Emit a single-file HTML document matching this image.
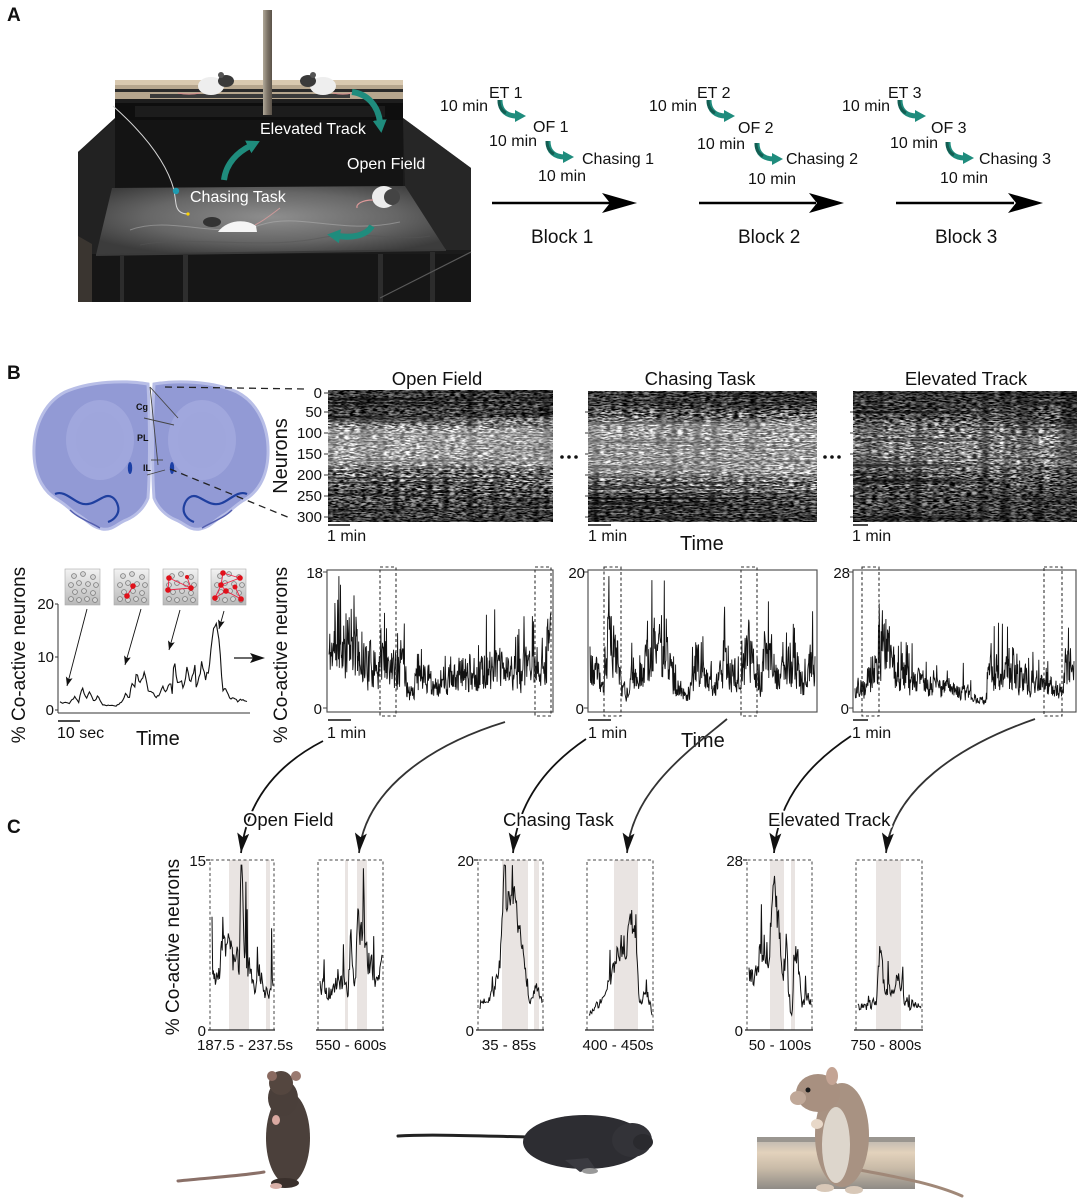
<!DOCTYPE html>
<html><head><meta charset="utf-8">
<style>
html,body{margin:0;padding:0;background:#fff;}
body{width:1080px;height:1198px;position:relative;overflow:hidden;font-family:"Liberation Sans",Arial,sans-serif;}
svg{position:absolute;left:0;top:0;}
.lab{font-family:"Liberation Sans",Arial,sans-serif;fill:#111;}
.halo{paint-order:stroke;stroke:#fff;stroke-width:4px;stroke-linejoin:round;}
</style></head><body>
<svg width="1080" height="1198" viewBox="0 0 1080 1198" xmlns="http://www.w3.org/2000/svg" font-family="Liberation Sans, Arial, sans-serif">
<defs>
 <marker id="th" markerUnits="userSpaceOnUse" markerWidth="14" markerHeight="14" refX="2" refY="6" orient="auto"><path d="M0,0 L11,6 L0,12 Z" fill="#1f8c7d"/></marker>
 <marker id="thb" markerUnits="userSpaceOnUse" markerWidth="16" markerHeight="16" refX="2" refY="7" orient="auto"><path d="M0,0 L13,7 L0,14 Z" fill="#1f8c7d"/></marker>
 <marker id="bk" markerUnits="userSpaceOnUse" markerWidth="22" markerHeight="14" refX="20" refY="6" orient="auto"><path d="M0,0 L20,6 L0,12 L4,6 Z" fill="#111"/></marker>
 <marker id="sm" markerUnits="userSpaceOnUse" markerWidth="10" markerHeight="8" refX="9" refY="3.5" orient="auto"><path d="M0,0 L9,3.5 L0,7 L2,3.5 Z" fill="#111"/></marker>
 <radialGradient id="floorG" cx="0.5" cy="0.45" r="0.6"><stop offset="0" stop-color="#8e8e8e"/><stop offset="0.6" stop-color="#666"/><stop offset="1" stop-color="#3c3c3c"/></radialGradient>
 <linearGradient id="boardG" x1="0" x2="1"><stop offset="0" stop-color="#b0a898"/><stop offset="0.5" stop-color="#7d7468"/><stop offset="1" stop-color="#5a5248"/></linearGradient>
 <linearGradient id="iconG" x1="0" y1="0" x2="0" y2="1"><stop offset="0" stop-color="#f2f2f2"/><stop offset="1" stop-color="#b8b8b8"/></linearGradient>
 <linearGradient id="logG" x1="0" y1="0" x2="0" y2="1"><stop offset="0" stop-color="#b8b4ae"/><stop offset="0.3" stop-color="#e3d2bc"/><stop offset="0.6" stop-color="#c9bba8"/><stop offset="1" stop-color="#8f8b86"/></linearGradient>
 <filter id="nz1" x="0" y="0" width="1" height="1" filterUnits="objectBoundingBox" color-interpolation-filters="sRGB">
  <feTurbulence type="fractalNoise" baseFrequency="0.18 0.75" numOctaves="2" seed="3" result="t1"/>
  <feColorMatrix in="t1" type="matrix" values="1 0 0 0 0  1 0 0 0 0  1 0 0 0 0  0 0 0 0 1" result="g1"/>
  <feComponentTransfer in="g1" result="c1"><feFuncR type="linear" slope="3.2" intercept="-1.1"/><feFuncG type="linear" slope="3.2" intercept="-1.1"/><feFuncB type="linear" slope="3.2" intercept="-1.1"/></feComponentTransfer>
  <feTurbulence type="fractalNoise" baseFrequency="0.12 0.008" numOctaves="1" seed="7" result="t2"/>
  <feColorMatrix in="t2" type="matrix" values="1 0 0 0 0  1 0 0 0 0  1 0 0 0 0  0 0 0 0 1" result="g2"/>
  <feComponentTransfer in="g2" result="c2"><feFuncR type="linear" slope="2" intercept="0"/><feFuncG type="linear" slope="2" intercept="0"/><feFuncB type="linear" slope="2" intercept="0"/></feComponentTransfer>
  <feBlend in="c1" in2="c2" mode="multiply" result="m1"/>
  <feTurbulence type="fractalNoise" baseFrequency="0.004 0.45" numOctaves="1" seed="5" result="t3"/>
  <feColorMatrix in="t3" type="matrix" values="1 0 0 0 0  1 0 0 0 0  1 0 0 0 0  0 0 0 0 1" result="g3"/>
  <feComponentTransfer in="g3" result="c3"><feFuncR type="linear" slope="2.4" intercept="-0.3"/><feFuncG type="linear" slope="2.4" intercept="-0.3"/><feFuncB type="linear" slope="2.4" intercept="-0.3"/></feComponentTransfer>
  <feBlend in="m1" in2="c3" mode="multiply"/>
 </filter>
 <filter id="nz2" x="0" y="0" width="1" height="1" filterUnits="objectBoundingBox" color-interpolation-filters="sRGB">
  <feTurbulence type="fractalNoise" baseFrequency="0.18 0.75" numOctaves="2" seed="11" result="t1"/>
  <feColorMatrix in="t1" type="matrix" values="1 0 0 0 0  1 0 0 0 0  1 0 0 0 0  0 0 0 0 1" result="g1"/>
  <feComponentTransfer in="g1" result="c1"><feFuncR type="linear" slope="3.2" intercept="-1.1"/><feFuncG type="linear" slope="3.2" intercept="-1.1"/><feFuncB type="linear" slope="3.2" intercept="-1.1"/></feComponentTransfer>
  <feTurbulence type="fractalNoise" baseFrequency="0.12 0.008" numOctaves="1" seed="21" result="t2"/>
  <feColorMatrix in="t2" type="matrix" values="1 0 0 0 0  1 0 0 0 0  1 0 0 0 0  0 0 0 0 1" result="g2"/>
  <feComponentTransfer in="g2" result="c2"><feFuncR type="linear" slope="2" intercept="0"/><feFuncG type="linear" slope="2" intercept="0"/><feFuncB type="linear" slope="2" intercept="0"/></feComponentTransfer>
  <feBlend in="c1" in2="c2" mode="multiply" result="m1"/>
  <feTurbulence type="fractalNoise" baseFrequency="0.004 0.45" numOctaves="1" seed="15" result="t3"/>
  <feColorMatrix in="t3" type="matrix" values="1 0 0 0 0  1 0 0 0 0  1 0 0 0 0  0 0 0 0 1" result="g3"/>
  <feComponentTransfer in="g3" result="c3"><feFuncR type="linear" slope="2.4" intercept="-0.3"/><feFuncG type="linear" slope="2.4" intercept="-0.3"/><feFuncB type="linear" slope="2.4" intercept="-0.3"/></feComponentTransfer>
  <feBlend in="m1" in2="c3" mode="multiply"/>
 </filter>
 <filter id="nz3" x="0" y="0" width="1" height="1" filterUnits="objectBoundingBox" color-interpolation-filters="sRGB">
  <feTurbulence type="fractalNoise" baseFrequency="0.18 0.75" numOctaves="2" seed="29" result="t1"/>
  <feColorMatrix in="t1" type="matrix" values="1 0 0 0 0  1 0 0 0 0  1 0 0 0 0  0 0 0 0 1" result="g1"/>
  <feComponentTransfer in="g1" result="c1"><feFuncR type="linear" slope="3.2" intercept="-1.1"/><feFuncG type="linear" slope="3.2" intercept="-1.1"/><feFuncB type="linear" slope="3.2" intercept="-1.1"/></feComponentTransfer>
  <feTurbulence type="fractalNoise" baseFrequency="0.09 0.008" numOctaves="1" seed="41" result="t2"/>
  <feColorMatrix in="t2" type="matrix" values="1 0 0 0 0  1 0 0 0 0  1 0 0 0 0  0 0 0 0 1" result="g2"/>
  <feComponentTransfer in="g2" result="c2"><feFuncR type="linear" slope="2" intercept="-0.05"/><feFuncG type="linear" slope="2" intercept="-0.05"/><feFuncB type="linear" slope="2" intercept="-0.05"/></feComponentTransfer>
  <feBlend in="c1" in2="c2" mode="multiply" result="m1"/>
  <feTurbulence type="fractalNoise" baseFrequency="0.004 0.45" numOctaves="1" seed="33" result="t3"/>
  <feColorMatrix in="t3" type="matrix" values="1 0 0 0 0  1 0 0 0 0  1 0 0 0 0  0 0 0 0 1" result="g3"/>
  <feComponentTransfer in="g3" result="c3"><feFuncR type="linear" slope="2.4" intercept="-0.3"/><feFuncG type="linear" slope="2.4" intercept="-0.3"/><feFuncB type="linear" slope="2.4" intercept="-0.3"/></feComponentTransfer>
  <feBlend in="m1" in2="c3" mode="multiply"/>
 </filter>
 <linearGradient id="ovOF" x1="0" y1="0" x2="0" y2="1">
  <stop offset="0" stop-color="#000" stop-opacity="0.5"/><stop offset="0.2" stop-color="#000" stop-opacity="0.4"/>
  <stop offset="0.26" stop-color="#fff" stop-opacity="0.15"/><stop offset="0.32" stop-color="#fff" stop-opacity="0.4"/>
  <stop offset="0.55" stop-color="#fff" stop-opacity="0.35"/><stop offset="0.62" stop-color="#fff" stop-opacity="0.05"/>
  <stop offset="0.75" stop-color="#000" stop-opacity="0.15"/><stop offset="0.85" stop-color="#000" stop-opacity="0.35"/><stop offset="1" stop-color="#000" stop-opacity="0.45"/>
 </linearGradient>
 <linearGradient id="ovCT" x1="0" y1="0" x2="0" y2="1">
  <stop offset="0" stop-color="#000" stop-opacity="0.5"/><stop offset="0.12" stop-color="#000" stop-opacity="0.4"/>
  <stop offset="0.18" stop-color="#000" stop-opacity="0.05"/><stop offset="0.25" stop-color="#fff" stop-opacity="0.35"/>
  <stop offset="0.6" stop-color="#fff" stop-opacity="0.35"/><stop offset="0.7" stop-color="#fff" stop-opacity="0.05"/>
  <stop offset="0.8" stop-color="#000" stop-opacity="0.3"/><stop offset="1" stop-color="#000" stop-opacity="0.5"/>
 </linearGradient>
 <linearGradient id="ovET" x1="0" y1="0" x2="0" y2="1">
  <stop offset="0" stop-color="#000" stop-opacity="0.55"/><stop offset="0.12" stop-color="#000" stop-opacity="0.4"/>
  <stop offset="0.22" stop-color="#000" stop-opacity="0.2"/><stop offset="0.32" stop-color="#fff" stop-opacity="0.15"/>
  <stop offset="0.55" stop-color="#fff" stop-opacity="0.15"/><stop offset="0.65" stop-color="#000" stop-opacity="0.15"/>
  <stop offset="0.8" stop-color="#000" stop-opacity="0.35"/><stop offset="1" stop-color="#000" stop-opacity="0.5"/>
 </linearGradient>
 <g id="tarrow"><path d="M0,0 C0,11 7,16 17,16" fill="none" stroke="#1f8c7d" stroke-width="5" marker-end="url(#th)"/><path d="M-1,0 C-1,7 2,11 6,13" fill="none" stroke="#135d52" stroke-width="3"/></g>
 <g id="circs" fill="#d6d6d6" stroke="#7a7a7a" stroke-width="0.8">
  <circle cx="9" cy="7" r="2.4"/><circle cx="18" cy="5" r="2.4"/><circle cx="28" cy="8" r="2.4"/>
  <circle cx="6" cy="16" r="2.4"/><circle cx="14" cy="14" r="2.4"/><circle cx="23" cy="15" r="2.4"/><circle cx="31" cy="16" r="2.4"/>
  <circle cx="10" cy="23" r="2.4"/><circle cx="19" cy="22" r="2.4"/><circle cx="28" cy="24" r="2.4"/>
  <circle cx="6" cy="30" r="2.4"/><circle cx="14" cy="31" r="2.4"/><circle cx="22" cy="30" r="2.4"/><circle cx="30" cy="31" r="2.4"/>
 </g>
 <g id="lhemi">
  <path d="M148,384 C125,380 90,381 65,392 C42,404 33,430 34,455 C35,478 45,493 58,500 C68,506 72,512 80,516 C88,521 92,527 102,529 C112,531 118,523 126,520 C136,516 144,508 148,498 C150,470 150,420 148,384 Z" fill="#929ad5" stroke="#b8bee7" stroke-width="3"/>
  <ellipse cx="100" cy="440" rx="34" ry="40" fill="#a6addf" opacity="0.7"/>
  <ellipse cx="100" cy="440" rx="24" ry="28" fill="#9ea5dc" opacity="0.6"/>
  <path d="M55,494 C64,490 72,500 80,503 C90,507 97,500 104,497 C110,494 116,498 118,506 C120,514 114,520 108,522" fill="none" stroke="#1f3f9f" stroke-width="2.2"/>
  <ellipse cx="130" cy="468" rx="2.2" ry="6" fill="#1b3fa5"/>
  <path d="M70,510 C78,518 90,522 100,528" fill="none" stroke="#5560b0" stroke-width="1.5"/>
 </g>
</defs>

<!-- ============ PANEL A ============ -->
<text x="7" y="21" font-size="19" font-weight="bold" class="lab">A</text>

<g>
 <polygon points="78,152 115,118 403,118 471,168 471,302 78,302" fill="#1b1b1b"/>
 <rect x="115" y="118" width="288" height="72" fill="#141414"/>
 <polygon points="78,152 115,120 115,190 97,255 78,262" fill="#222"/>
 <polygon points="403,118 471,168 471,250 446,250 405,186" fill="#262626"/>
 <polygon points="112,188 405,186 446,250 96,255" fill="url(#floorG)"/>
 <path d="M130,230 C170,215 220,240 260,225 C300,212 340,235 400,222" stroke="#b5b5b5" stroke-width="1" fill="none" opacity="0.5"/>
 <path d="M140,245 C190,235 260,250 320,238 C360,230 400,242 430,236" stroke="#555" stroke-width="1" fill="none" opacity="0.5"/>
 <rect x="78" y="254" width="393" height="48" fill="#161616"/>
 <line x1="96" y1="255" x2="446" y2="250" stroke="#3a3a3a" stroke-width="2"/>
 <rect x="120" y="255" width="4" height="47" fill="#2c2c2c"/>
 <rect x="183" y="255" width="5" height="47" fill="#2e2e2e"/>
 <rect x="378" y="254" width="5" height="48" fill="#2c2c2c"/>
 <rect x="430" y="252" width="5" height="50" fill="#2c2c2c"/>
 <polygon points="78,236 92,244 92,302 78,302" fill="#3a3530"/>
 <line x1="471" y1="252" x2="380" y2="298" stroke="#5a5a5a" stroke-width="1.2"/>
 <rect x="115" y="80" width="288" height="23" fill="#b6a68e"/>
 <rect x="115" y="80" width="288" height="5" fill="#d9c9b0"/>
 <rect x="115" y="89" width="288" height="3" fill="#2a2a2a"/>
 <rect x="150" y="94" width="200" height="4" fill="#3a3a3a"/>
 <rect x="115" y="99" width="288" height="4" fill="#1e1e1e"/>
 <rect x="115" y="103" width="288" height="17" fill="#0e0e0e"/>
 <rect x="135" y="106" width="250" height="11" fill="#1c1c1c"/>
 <ellipse cx="211" cy="86" rx="13" ry="9" fill="#eeeeee"/>
 <ellipse cx="226" cy="81" rx="8" ry="6" fill="#3a3a3a"/>
 <circle cx="221" cy="75" r="3" fill="#555"/>
 <path d="M200,93 C190,95 183,94 178,93" stroke="#d89090" stroke-width="1" fill="none"/>
 <ellipse cx="323" cy="86" rx="13" ry="9" fill="#eeeeee"/>
 <ellipse cx="308" cy="81" rx="8" ry="6" fill="#3a3a3a"/>
 <circle cx="313" cy="75" r="3" fill="#555"/>
 <path d="M333,93 C342,95 348,94 352,93" stroke="#d89090" stroke-width="1" fill="none"/>
 <rect x="263" y="10" width="9" height="105" fill="url(#boardG)"/>
 <path d="M113,106 C140,130 166,160 174,190 L176,204 C177,211 181,214 188,214" stroke="#d8d8d8" stroke-width="1" fill="none"/>
 <circle cx="176" cy="191" r="3.2" fill="#1e9bb0"/>
 <circle cx="188" cy="214" r="1.6" fill="#ffd400"/>
 <path d="M218,232 C226,220 246,218 256,226 L257,232 Z" fill="#f5f5f5"/>
 <ellipse cx="212" cy="222" rx="9" ry="5" fill="#333"/>
 <path d="M255,225 C265,220 272,214 280,208" stroke="#c99" stroke-width="1" fill="none"/>
 <ellipse cx="384" cy="197" rx="12" ry="11" fill="#ececec"/>
 <ellipse cx="392" cy="197" rx="8" ry="8" fill="#444"/>
 <path d="M373,200 C362,200 356,204 357,208" stroke="#d99" stroke-width="1.2" fill="none"/>
 <path d="M224,180 C226,163 238,152 250,146" fill="none" stroke="#1f8c7d" stroke-width="6" marker-end="url(#thb)"/>
 <path d="M352,92 C368,94 378,106 380,122" fill="none" stroke="#1f8c7d" stroke-width="6" marker-end="url(#thb)"/>
 <path d="M372,226 C366,236 352,238 338,236" fill="none" stroke="#1f8c7d" stroke-width="6" marker-end="url(#thb)"/>
 <text x="260" y="134" font-size="16" fill="#fff">Elevated Track</text>
 <text x="347" y="169" font-size="16" fill="#fff">Open Field</text>
 <text x="190" y="202" font-size="16" fill="#fff">Chasing Task</text>
</g>

<g font-size="16" class="lab">
 <text x="440" y="111">10 min</text><text x="489" y="98">ET 1</text><text x="533" y="132">OF 1</text>
 <text x="489" y="146">10 min</text><text x="582" y="164">Chasing 1</text><text x="538" y="181">10 min</text>
 <text x="649" y="111">10 min</text><text x="697" y="98">ET 2</text><text x="738" y="133">OF 2</text>
 <text x="697" y="149">10 min</text><text x="786" y="164">Chasing 2</text><text x="748" y="184">10 min</text>
 <text x="842" y="111">10 min</text><text x="888" y="98">ET 3</text><text x="931" y="133">OF 3</text>
 <text x="890" y="148">10 min</text><text x="979" y="164">Chasing 3</text><text x="940" y="183">10 min</text>
</g>
<use href="#tarrow" transform="translate(500,100)"/>
<use href="#tarrow" transform="translate(548,141)"/>
<use href="#tarrow" transform="translate(709,100)"/>
<use href="#tarrow" transform="translate(757,143)"/>
<use href="#tarrow" transform="translate(900,100)"/>
<use href="#tarrow" transform="translate(948,142)"/>
<g fill="#000">
 <line x1="492" y1="203" x2="610" y2="203" stroke="#000" stroke-width="2.5"/>
 <polygon points="602,193 637,203 602,213 610,203"/>
 <line x1="699" y1="203" x2="816" y2="203" stroke="#000" stroke-width="2.5"/>
 <polygon points="809,193 844,203 809,213 817,203"/>
 <line x1="896" y1="203" x2="1014" y2="203" stroke="#000" stroke-width="2.5"/>
 <polygon points="1008,193 1043,203 1008,213 1016,203"/>
</g>
<g font-size="19" class="lab">
 <text x="531" y="243">Block 1</text><text x="738" y="243">Block 2</text><text x="935" y="243">Block 3</text>
</g>

<!-- ============ PANEL B ============ -->
<text x="7" y="379" font-size="19" font-weight="bold" class="lab">B</text>
<use href="#lhemi"/>
<use href="#lhemi" transform="translate(302,0) scale(-1,1)"/>
<g stroke="#444" stroke-width="0.9" fill="none">
 <line x1="150" y1="387" x2="158" y2="465"/>
 <line x1="150" y1="387" x2="178" y2="418"/>
 <line x1="144" y1="418" x2="174" y2="425"/>
 <line x1="151" y1="460" x2="163" y2="460"/>
 <line x1="147" y1="475" x2="165" y2="470"/>
</g>
<g font-size="9" font-weight="bold" class="lab">
 <text x="136" y="410">Cg</text><text x="137" y="441">PL</text><text x="143" y="471">IL</text>
</g>
<g stroke="#222" stroke-width="1.3" stroke-dasharray="7,5" fill="none">
 <line x1="165" y1="387" x2="305" y2="389"/>
 <line x1="170" y1="469" x2="290" y2="518"/>
</g>

<rect x="328" y="390" width="225" height="132" fill="#888" filter="url(#nz1)"/>
<rect x="328" y="390" width="225" height="132" fill="url(#ovOF)"/>
<rect x="588" y="391" width="229" height="131" fill="#888" filter="url(#nz2)"/>
<rect x="588" y="391" width="229" height="131" fill="url(#ovCT)"/>
<rect x="853" y="391" width="224" height="131" fill="#888" filter="url(#nz3)"/>
<rect x="853" y="391" width="224" height="131" fill="url(#ovET)"/>
<g stroke="#333" stroke-width="1">
 <line x1="324" y1="393" x2="328" y2="393"/><line x1="324" y1="412" x2="328" y2="412"/><line x1="324" y1="433" x2="328" y2="433"/>
 <line x1="324" y1="454" x2="328" y2="454"/><line x1="324" y1="475" x2="328" y2="475"/><line x1="324" y1="496" x2="328" y2="496"/><line x1="324" y1="517" x2="328" y2="517"/>
 <line x1="585" y1="412" x2="588" y2="412"/><line x1="585" y1="433" x2="588" y2="433"/><line x1="585" y1="454" x2="588" y2="454"/><line x1="585" y1="475" x2="588" y2="475"/><line x1="585" y1="496" x2="588" y2="496"/><line x1="585" y1="517" x2="588" y2="517"/>
 <line x1="850" y1="412" x2="853" y2="412"/><line x1="850" y1="433" x2="853" y2="433"/><line x1="850" y1="454" x2="853" y2="454"/><line x1="850" y1="475" x2="853" y2="475"/><line x1="850" y1="496" x2="853" y2="496"/><line x1="850" y1="517" x2="853" y2="517"/>
</g>
<g font-size="15" class="lab" text-anchor="end">
 <text x="322" y="398">0</text><text x="322" y="417">50</text><text x="322" y="438">100</text><text x="322" y="459">150</text>
 <text x="322" y="480">200</text><text x="322" y="501">250</text><text x="322" y="522">300</text>
</g>
<text transform="translate(287,456) rotate(-90)" font-size="20" text-anchor="middle" class="lab">Neurons</text>
<g font-size="18.5" class="lab" text-anchor="middle">
 <text x="437" y="385">Open Field</text><text x="700" y="385">Chasing Task</text><text x="966" y="385">Elevated Track</text>
</g>
<g fill="#111"><circle cx="562" cy="457" r="1.8"/><circle cx="569" cy="457" r="1.8"/><circle cx="576" cy="457" r="1.8"/>
<circle cx="825" cy="457" r="1.8"/><circle cx="832" cy="457" r="1.8"/><circle cx="839" cy="457" r="1.8"/></g>
<g stroke="#111" stroke-width="1.5">
 <line x1="328" y1="525" x2="350" y2="525"/><line x1="588" y1="525" x2="611" y2="525"/><line x1="853" y1="525" x2="868" y2="525"/>
</g>
<g font-size="16" class="lab">
 <text x="327" y="541">1 min</text><text x="588" y="541">1 min</text><text x="852" y="541">1 min</text>
</g>
<text x="680" y="550" font-size="20" class="lab">Time</text>

<g>
 <rect x="65" y="569" width="35" height="36" fill="url(#iconG)" stroke="#aaa" stroke-width="0.6"/>
 <use href="#circs" transform="translate(65,569)"/>
 <rect x="114" y="569" width="35" height="36" fill="url(#iconG)" stroke="#aaa" stroke-width="0.6"/>
 <use href="#circs" transform="translate(114,569)"/>
 <g transform="translate(114,569)"><line x1="19" y1="17" x2="13" y2="27" stroke="#e24" stroke-width="0.9"/><circle cx="19" cy="17" r="2.8" fill="#e0101a"/><circle cx="13" cy="27" r="2.8" fill="#e0101a"/></g>
 <rect x="163" y="569" width="35" height="36" fill="url(#iconG)" stroke="#aaa" stroke-width="0.6"/>
 <use href="#circs" transform="translate(163,569)"/>
 <g transform="translate(163,569)" stroke="#e24" stroke-width="0.9"><line x1="6" y1="9" x2="28" y2="19"/><line x1="6" y1="9" x2="5" y2="21"/><line x1="5" y1="21" x2="28" y2="19"/><line x1="24" y1="8" x2="28" y2="19"/>
  <g fill="#e0101a" stroke="none"><circle cx="6" cy="9" r="2.8"/><circle cx="5" cy="21" r="2.8"/><circle cx="28" cy="19" r="2.8"/><circle cx="24" cy="8" r="2"/></g></g>
 <rect x="211" y="569" width="35" height="36" fill="url(#iconG)" stroke="#aaa" stroke-width="0.6"/>
 <use href="#circs" transform="translate(211,569)"/>
 <g transform="translate(211,569)" stroke="#e24" stroke-width="0.9"><line x1="12" y1="4" x2="29" y2="9"/><line x1="12" y1="4" x2="10" y2="16"/><line x1="10" y1="16" x2="4" y2="29"/><line x1="10" y1="16" x2="29" y2="9"/><line x1="15" y1="22" x2="30" y2="30"/><line x1="4" y1="29" x2="15" y2="22"/><line x1="24" y1="18" x2="30" y2="30"/><line x1="10" y1="16" x2="15" y2="22"/>
  <g fill="#e0101a" stroke="none"><circle cx="12" cy="4" r="2.8"/><circle cx="29" cy="9" r="2.8"/><circle cx="10" cy="16" r="2.8"/><circle cx="4" cy="29" r="2.8"/><circle cx="15" cy="22" r="2.8"/><circle cx="30" cy="30" r="2.8"/><circle cx="24" cy="18" r="2.5"/></g></g>
 <line x1="58" y1="604" x2="58" y2="713" stroke="#333" stroke-width="1"/>
 <line x1="58" y1="713" x2="250" y2="713" stroke="#333" stroke-width="1"/>
 <line x1="55" y1="604" x2="58" y2="604" stroke="#333"/><line x1="55" y1="657" x2="58" y2="657" stroke="#333"/><line x1="55" y1="710" x2="58" y2="710" stroke="#333"/>
 <g font-size="15" class="lab" text-anchor="end"><text x="54" y="609">20</text><text x="54" y="662">10</text><text x="54" y="715">0</text></g>
 <path id="tIn" d="" fill="none" stroke="#111" stroke-width="1.1"/>
 <g stroke="#111" stroke-width="0.9" marker-end="url(#sm)">
  <line x1="87" y1="609" x2="67" y2="686"/><line x1="141" y1="609" x2="125" y2="665"/><line x1="180" y1="610" x2="169" y2="650"/><line x1="224" y1="611" x2="219" y2="629"/>
 </g>
 <line x1="58" y1="721" x2="80" y2="721" stroke="#111" stroke-width="1.5"/>
 <text x="57" y="738" font-size="16" class="lab">10 sec</text>
 <text x="136" y="745" font-size="20" class="lab">Time</text>
 <text transform="translate(25,655) rotate(-90)" font-size="19" text-anchor="middle" class="lab">% Co-active neurons</text>
 <line x1="234" y1="658" x2="256" y2="658" stroke="#111" stroke-width="1.3"/>
 <polygon points="250,653 265,658 250,663 253,658" fill="#111"/>
</g>

<text transform="translate(287,655) rotate(-90)" font-size="19" text-anchor="middle" class="lab">% Co-active neurons</text>
<g fill="none" stroke="#555" stroke-width="1.2">
 <rect x="327" y="570" width="226" height="142"/>
 <rect x="588" y="570" width="229" height="142"/>
 <rect x="853" y="570" width="223" height="142"/>
</g>
<path id="tOF" d="" fill="none" stroke="#111" stroke-width="0.9"/>
<path id="tCT" d="" fill="none" stroke="#111" stroke-width="0.9"/>
<path id="tET" d="" fill="none" stroke="#111" stroke-width="0.9"/>
<g stroke="#444" stroke-width="1"><line x1="323" y1="572" x2="327" y2="572"/><line x1="323" y1="708" x2="327" y2="708"/>
<line x1="584" y1="572" x2="588" y2="572"/><line x1="584" y1="708" x2="588" y2="708"/><line x1="849" y1="572" x2="853" y2="572"/><line x1="849" y1="708" x2="853" y2="708"/></g>
<g font-size="15" class="lab" text-anchor="end">
 <text x="323" y="578">18</text><text x="322" y="714">0</text>
 <text x="585" y="578">20</text><text x="584" y="714">0</text>
 <text x="850" y="578">28</text><text x="849" y="714">0</text>
</g>
<g fill="none" stroke="#333" stroke-width="1.1" stroke-dasharray="3,2.5">
 <rect x="380" y="567" width="16" height="149"/><rect x="535" y="567" width="16" height="149"/>
 <rect x="604" y="567" width="17" height="149"/><rect x="741" y="567" width="16" height="149"/>
 <rect x="862" y="567" width="17" height="149"/><rect x="1044" y="567" width="18" height="149"/>
</g>
<g stroke="#111" stroke-width="1.5">
 <line x1="328" y1="720" x2="351" y2="720"/><line x1="588" y1="720" x2="611" y2="720"/><line x1="853" y1="720" x2="868" y2="720"/>
</g>
<g font-size="16" class="lab">
 <text x="327" y="738">1 min</text><text x="588" y="738">1 min</text><text x="852" y="738">1 min</text>
</g>
<text x="681" y="747" font-size="20" class="lab">Time</text>

<g fill="none" stroke="#111" stroke-width="1.8" marker-end="url(#bk)">
 <path d="M323,741 C290,758 248,790 241,853"/>
 <path d="M505,722 C430,745 365,790 359,853" stroke="#333"/>
 <path d="M586,739 C555,760 518,795 513,853"/>
 <path d="M727,719 C690,750 632,790 627,853" stroke="#333"/>
 <path d="M851,736 C815,760 778,795 774,853"/>
 <path d="M1035,719 C960,745 892,790 886,853" stroke="#333"/>
</g>

<!-- ============ PANEL C ============ -->
<text x="7" y="833" font-size="19" font-weight="bold" class="lab">C</text>
<g font-size="18.5" class="lab halo">
 <text x="243" y="826">Open Field</text><text x="503" y="826">Chasing Task</text><text x="768" y="826">Elevated Track</text>
</g>
<text transform="translate(179,947) rotate(-90)" font-size="19" text-anchor="middle" class="lab">% Co-active neurons</text>
<g fill="#e9e4e2">
 <rect x="229" y="860" width="20" height="170"/><rect x="266" y="860" width="4" height="170"/>
 <rect x="345" y="860" width="3" height="170"/><rect x="357" y="860" width="10" height="170"/>
 <rect x="502" y="860" width="26" height="170"/><rect x="534" y="860" width="5" height="170"/>
 <rect x="614" y="860" width="24" height="170"/>
 <rect x="770" y="860" width="14" height="170"/><rect x="791" y="860" width="4" height="170"/>
 <rect x="876" y="860" width="25" height="170"/>
</g>
<g fill="none" stroke="#444" stroke-width="1" stroke-dasharray="3,2.5">
 <path d="M210,1030 V860 H274 V1030"/><path d="M318,1030 V860 H383 V1030"/>
 <path d="M478,1030 V860 H543 V1030"/><path d="M587,1030 V860 H653 V1030"/>
 <path d="M747,1030 V860 H812 V1030"/><path d="M856,1030 V860 H922 V1030"/>
</g>
<g stroke="#222" stroke-width="1.2">
 <line x1="208" y1="1030" x2="275" y2="1030"/><line x1="316" y1="1030" x2="384" y2="1030"/>
 <line x1="476" y1="1030" x2="544" y2="1030"/><line x1="585" y1="1030" x2="654" y2="1030"/>
 <line x1="745" y1="1030" x2="813" y2="1030"/><line x1="854" y1="1030" x2="923" y2="1030"/>
 <line x1="206" y1="860" x2="210" y2="860"/><line x1="474" y1="860" x2="478" y2="860"/><line x1="743" y1="860" x2="747" y2="860"/>
</g>
<path id="c1" d="" fill="none" stroke="#111" stroke-width="1"/>
<path id="c2" d="" fill="none" stroke="#111" stroke-width="1"/>
<path id="c3" d="" fill="none" stroke="#111" stroke-width="1"/>
<path id="c4" d="" fill="none" stroke="#111" stroke-width="1"/>
<path id="c5" d="" fill="none" stroke="#111" stroke-width="1"/>
<path id="c6" d="" fill="none" stroke="#111" stroke-width="1"/>
<g font-size="15" class="lab" text-anchor="end">
 <text x="206" y="866">15</text><text x="206" y="1036">0</text>
 <text x="474" y="866">20</text><text x="474" y="1036">0</text>
 <text x="743" y="866">28</text><text x="743" y="1036">0</text>
</g>
<g font-size="15" class="lab" text-anchor="middle">
 <text x="245" y="1050">187.5 - 237.5s</text><text x="351" y="1050">550 - 600s</text>
 <text x="509" y="1050">35 - 85s</text><text x="618" y="1050">400 - 450s</text>
 <text x="780" y="1050">50 - 100s</text><text x="886" y="1050">750 - 800s</text>
</g>

<g>
 <path d="M264,1172 C240,1176 205,1178 178,1181" stroke="#8a7068" stroke-width="3" fill="none" stroke-linecap="round"/>
 <ellipse cx="288" cy="1138" rx="22" ry="46" fill="#4b403b"/>
 <ellipse cx="283" cy="1098" rx="15" ry="18" fill="#4a3f3a"/>
 <ellipse cx="281" cy="1083" rx="12" ry="12" fill="#54463f"/>
 <circle cx="272" cy="1076" r="5" fill="#8a6a60"/><circle cx="296" cy="1076" r="5" fill="#9a7a70"/>
 <ellipse cx="276" cy="1120" rx="4" ry="5" fill="#d9a8a0"/>
 <ellipse cx="285" cy="1183" rx="14" ry="5" fill="#3a302c"/>
 <ellipse cx="276" cy="1186" rx="6" ry="3" fill="#d8b0a8"/>
</g>
<g>
 <path d="M528,1137 C480,1136 430,1134 398,1136" stroke="#222" stroke-width="3" fill="none" stroke-linecap="round"/>
 <ellipse cx="585" cy="1142" rx="62" ry="27" fill="#2d2d32"/>
 <ellipse cx="632" cy="1140" rx="20" ry="17" fill="#333338"/>
 <ellipse cx="643" cy="1142" rx="10" ry="8" fill="#2a2a2e"/>
 <path d="M565,1160 L580,1172 L595,1168 L588,1158 Z" fill="#3a3a40"/>
 <ellipse cx="590" cy="1171" rx="8" ry="3" fill="#999"/>
</g>
<g>
 <rect x="757" y="1137" width="158" height="52" fill="url(#logG)"/>
 <rect x="757" y="1137" width="158" height="5" fill="#9a9690"/>
 <path d="M860,1170 C890,1176 930,1182 962,1196" stroke="#a08878" stroke-width="3" fill="none" stroke-linecap="round"/>
 <ellipse cx="842" cy="1135" rx="27" ry="52" fill="#a89282"/>
 <ellipse cx="836" cy="1145" rx="14" ry="38" fill="#ddd6cc"/>
 <ellipse cx="818" cy="1093" rx="22" ry="19" fill="#a89080"/>
 <ellipse cx="798" cy="1098" rx="8" ry="7" fill="#c0a898"/>
 <ellipse cx="832" cy="1076" rx="6" ry="9" fill="#c4a494"/>
 <circle cx="808" cy="1090" r="2.5" fill="#1a1a1a"/>
 <ellipse cx="817" cy="1124" rx="6" ry="5" fill="#e8d8c8"/>
 <ellipse cx="825" cy="1188" rx="9" ry="4" fill="#d8c8b8"/><ellipse cx="854" cy="1190" rx="9" ry="4" fill="#d8c8b8"/>
</g>
</svg>
<script>
(function(){
 function rng(a){return function(){a|=0;a=a+0x6D2B79F5|0;var t=Math.imul(a^a>>>15,1|a);t=t+Math.imul(t^t>>>7,61|t)^t;return((t^t>>>14)>>>0)/4294967296;};}
 function env(p,f){for(var i=1;i<p.length;i++){if(f<=p[i][0]){var a=p[i-1],b=p[i];var u=(f-a[0])/((b[0]-a[0])||1);return a[1]+(b[1]-a[1])*u;}}return p[p.length-1][1];}
 function mk(id,x0,x1,y0,y1,vmax,n,p,seed,na,sp,sa){
  var r=rng(seed),s=0.5,d="";
  for(var i=0;i<=n;i++){
   var f=i/n,b=env(p,f);
   s=0.3*s+0.7*r();
   var v=b*(1+na*(s-0.5)*2);
   if(r()<sp)v+=b*sa*(0.5+r());
   if(v>vmax*0.97)v=vmax*0.97; if(v<0.3)v=0.3;
   var x=x0+f*(x1-x0), y=y0-v/vmax*(y0-y1);
   d+=(i?"L":"M")+x.toFixed(1)+","+y.toFixed(1);
  }
  var el=document.getElementById(id); if(el)el.setAttribute("d",d);
 }
 mk("tIn",60,247,710,604,20,140,[[0,1.5],[0.05,1.2],[0.08,2.5],[0.1,1.5],[0.12,4.5],[0.14,2],[0.16,3.5],[0.18,1.5],[0.2,2.5],[0.23,1],[0.27,0.8],[0.3,0.8],[0.33,1.5],[0.35,3],[0.37,2],[0.38,5],[0.4,4],[0.41,7.5],[0.43,5],[0.45,7],[0.47,4],[0.5,3],[0.52,2.5],[0.55,4],[0.57,3.5],[0.59,5.5],[0.6,3],[0.61,9.5],[0.63,5],[0.65,5.5],[0.66,4],[0.68,8],[0.7,5],[0.72,8.5],[0.73,4],[0.76,9],[0.78,6],[0.8,8],[0.82,15],[0.83,18],[0.84,16],[0.86,10],[0.87,3.5],[0.89,4],[0.91,2],[0.93,2.5],[0.95,1.5],[0.97,2],[1,1.5]],5,0.15,0,0);
 mk("tOF",329,551,708,572,18,560,[[0,7],[0.05,9],[0.12,7],[0.2,5.5],[0.26,6],[0.3,5],[0.33,7],[0.35,3],[0.37,2],[0.4,4],[0.44,3.5],[0.5,2.5],[0.55,3.5],[0.6,4.5],[0.7,5],[0.8,5],[0.9,5],[0.95,5.5],[1,8]],11,0.7,0.09,0.8);
 mk("tCT",590,815,708,572,20,560,[[0,6],[0.03,5],[0.06,3],[0.08,10],[0.1,13],[0.12,8],[0.14,3],[0.17,2],[0.19,5],[0.22,3],[0.26,8],[0.3,9],[0.34,7],[0.37,4],[0.42,2],[0.44,1.5],[0.47,6],[0.5,7],[0.52,4],[0.56,3],[0.6,6],[0.64,4],[0.67,3],[0.69,7],[0.71,9],[0.73,6],[0.75,3],[0.78,7],[0.8,8],[0.83,4],[0.86,5],[0.9,6],[0.93,5],[0.96,3],[0.98,7],[1,4]],23,0.7,0.08,0.8);
 mk("tET",855,1074,708,572,28,560,[[0,4],[0.05,4],[0.08,8],[0.12,14],[0.15,12],[0.18,8],[0.22,7],[0.3,5],[0.4,4],[0.5,3.5],[0.55,2],[0.58,1.5],[0.6,1.5],[0.61,7],[0.7,7],[0.8,5.5],[0.88,4.5],[0.93,3.5],[0.95,3],[0.96,8],[1,8]],37,0.7,0.09,0.8);
 mk("c1",212,273,1030,860,15,90,[[0,6],[0.1,4],[0.15,7],[0.25,8],[0.35,6],[0.45,6],[0.48,14],[0.52,8],[0.6,5],[0.7,4],[0.8,5],[0.9,3],[1,5]],3,0.3,0.05,0.6);
 mk("c2",320,382,1030,860,15,90,[[0,4],[0.2,3],[0.3,5],[0.45,3],[0.5,9],[0.55,3],[0.62,10],[0.7,8],[0.8,6],[0.9,4],[1,7]],5,0.3,0.05,0.6);
 mk("c3",480,542,1030,860,20,90,[[0,3],[0.15,4],[0.25,5],[0.35,10],[0.4,19],[0.45,14],[0.55,14],[0.65,10],[0.75,7],[0.8,3],[0.9,5],[1,3]],7,0.25,0.05,0.4);
 mk("c4",589,652,1030,860,20,90,[[0,2],[0.15,3],[0.25,4],[0.35,6],[0.45,9],[0.55,10],[0.65,11],[0.7,13],[0.75,9],[0.8,3],[0.9,5],[1,2]],9,0.25,0.05,0.4);
 mk("c5",749,811,1030,860,28,90,[[0,10],[0.08,8],[0.15,12],[0.25,14],[0.3,12],[0.38,20],[0.42,26],[0.48,16],[0.55,8],[0.6,14],[0.65,4],[0.7,3],[0.75,14],[0.8,10],[0.85,4],[0.9,5],[1,5]],13,0.3,0.04,0.5);
 mk("c6",858,921,1030,860,28,90,[[0,4],[0.2,4],[0.3,5],[0.35,14],[0.4,9],[0.5,6],[0.6,7],[0.65,11],[0.7,6],[0.8,4],[0.9,5],[1,4]],17,0.3,0.05,0.5);
})();
</script>
</body></html>
